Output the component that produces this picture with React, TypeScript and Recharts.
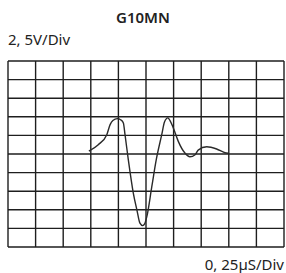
import React from 'react';
import { LineChart, Line, XAxis, YAxis, CartesianGrid } from 'recharts';

// time in divisions (0..10), voltage in divisions (-5..5)
const timeDiv = [
    2.93, 3.27, 3.58, 3.7, 3.8, 3.96, 4.09, 4.18, 4.24, 4.36, 4.54, 4.67, 4.78, 4.88, 4.95, 5.03,
    5.21, 5.37, 5.57, 5.67, 5.79, 5.87, 5.99, 6.17, 6.41, 6.59, 6.78, 6.89, 7.2, 7.56, 7.86, 7.98
];
const voltDiv = [
    0.15, 0.5, 1.04, 1.58, 1.8, 1.9, 1.83, 1.67, 1.04, -0.32, -2.1, -3.0, -3.72, -3.85, -3.76, -3.37,
    -1.76, -0.32, 1.04, 1.72, 1.94, 1.8, 1.4, 0.68, 0.05, -0.15, -0.04, 0.21, 0.39, 0.27, 0.07, 0.04
];
const xTicks = [0, 1, 2, 3, 4, 5, 6, 7, 8, 9, 10];
const yTicks = [-5, -4, -3, -2, -1, 0, 1, 2, 3, 4, 5];

const title = 'G10MN';
const voltLabel = '2, 5V/Div';
const timeLabel = '0, 25µS/Div';

const data = timeDiv.map((t, i) => ({ t, v: voltDiv[i] }));

const font = '"Noto Sans", "Open Sans", sans-serif';

const App = () => {
    return (
        <div style={{ position: 'absolute', left: 0, top: 0, width: 286, height: 273, fontFamily: font, color: '#222' }}>
            <div style={{ position: 'absolute', left: 0, width: 286, top: 10, textAlign: 'center', fontSize: 15, lineHeight: '15px', fontWeight: 600 }}>
                {title}
            </div>
            <div style={{ position: 'absolute', left: 8, top: 32, fontSize: 15, lineHeight: '15px' }}>
                {voltLabel}
            </div>
            <div style={{ position: 'absolute', right: 2, top: 257, fontSize: 15, lineHeight: '15px' }}>
                {timeLabel}
            </div>
            <LineChart width={286} height={273} data={data} margin={{ top: 61, right: 2, bottom: 26, left: 8 }}>
                <CartesianGrid stroke="#1e1e1e" strokeWidth={1.4} horizontal vertical />
                <XAxis dataKey="t" type="number" domain={[0, 10]} ticks={xTicks} interval={0} hide />
                <YAxis type="number" domain={[-5, 5]} ticks={yTicks} interval={0} hide />
                <Line
                    type="monotone"
                    dataKey="v"
                    stroke="#2a2a2a"
                    strokeWidth={1.4}
                    dot={false}
                    isAnimationActive={false}
                />
            </LineChart>
        </div>
    );
};

export default App;
